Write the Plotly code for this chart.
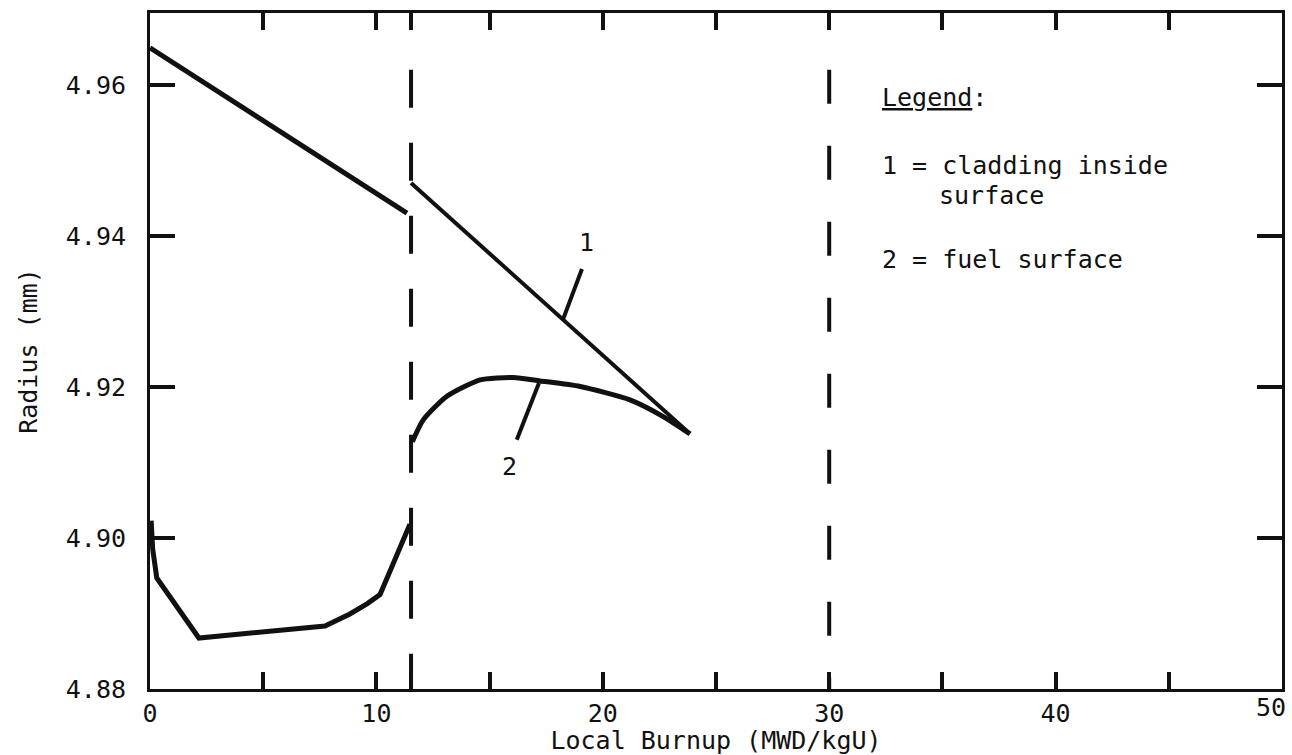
import plotly.graph_objects as go

# Local burnup (MWD/kgU) and radius (mm)
clad_a_x = [0.0, 11.35]
clad_a_y = [4.9649, 4.9430]
clad_b_x = [11.53, 23.85]
clad_b_y = [4.9470, 4.9138]

fuel_a_x = [0.05, 0.12, 0.30, 2.16, 7.73, 8.83, 9.6, 10.16, 10.60, 10.91, 11.48]
fuel_a_y = [4.9023, 4.8985, 4.8947, 4.88675, 4.88834, 4.88993, 4.8913, 4.8925, 4.8956, 4.8978, 4.9018]
fuel_b_x = [11.59, 12.07, 13.10, 14.58, 16.05, 17.23, 19.0, 21.2, 22.67, 23.85]
fuel_b_y = [4.91275, 4.91563, 4.91872, 4.92093, 4.92125, 4.92079, 4.92005, 4.91828, 4.91607, 4.91377]

# burnups marked with vertical dashed lines
marker_burnups = [11.53, 30.0]

x_tickvals = [0, 5, 10, 11.53, 15, 20, 25, 30, 35, 40, 45, 50]
x_ticktext = ["0", "", "10", "", "", "20", "", "30", "", "40", "", ""]
x_end_label = "50"
y_tickvals = [4.88, 4.90, 4.92, 4.94, 4.96]
y_ticktext = ["4.88", "4.90", "4.92", "4.94", "4.96"]

INK = "#111111"
FONT = "DejaVu Sans Mono"

fig = go.Figure()

for xs, ys, w, shape in [
    (clad_a_x, clad_a_y, 5, "linear"),
    (clad_b_x, clad_b_y, 4, "linear"),
    (fuel_a_x, fuel_a_y, 5, "linear"),
    (fuel_b_x, fuel_b_y, 5, "spline"),
]:
    fig.add_trace(go.Scatter(x=xs, y=ys, mode="lines",
                             line=dict(color=INK, width=w, shape=shape, smoothing=0.6),
                             showlegend=False, hoverinfo="skip"))

shapes = []
for bx, dash in zip(marker_burnups, ["38px,35px", "34px,42px"]):
    shapes.append(dict(type="line", xref="x", yref="y", x0=bx, x1=bx,
                       y0=4.9620, y1=4.8800,
                       line=dict(color=INK, width=4, dash=dash)))

# leader lines from the curve numbers to the curves
leaders = [((19.08, 4.9356), (18.24, 4.9289)), ((16.2, 4.9130), (17.18, 4.9205))]
for (x0, y0), (x1, y1) in leaders:
    shapes.append(dict(type="line", xref="x", yref="y", x0=x0, y0=y0, x1=x1, y1=y1,
                       line=dict(color=INK, width=4)))

annotations = [
    dict(x=19.30, y=4.9391, text="1"),
    dict(x=15.90, y=4.9094, text="2"),
    dict(x=32.24, y=4.9583, text="<u>Legend</u>:", xanchor="left"),
    dict(x=32.24, y=4.9493, text="1 = cladding inside", xanchor="left"),
    dict(x=34.76, y=4.9454, text="surface", xanchor="left"),
    dict(x=32.24, y=4.9368, text="2 = fuel surface", xanchor="left"),
]
for a in annotations:
    a.update(xref="x", yref="y", showarrow=False, yanchor="middle",
             font=dict(family=FONT, size=25, color=INK))
    a.setdefault("xanchor", "center")

# last x tick label, kept inside the page at the right edge
annotations.append(dict(x=50, xref="x", y=0, yref="paper", text=x_end_label,
                        xanchor="right", yanchor="top", xshift=6, yshift=-2,
                        showarrow=False, font=dict(family=FONT, size=25, color=INK)))

fig.update_layout(
    width=1292, height=755,
    margin=dict(l=150, r=10, t=13, b=66),
    paper_bgcolor="white", plot_bgcolor="white",
    font=dict(family=FONT, size=25, color=INK),
    shapes=shapes, annotations=annotations,
    xaxis=dict(range=[0, 50], tickvals=x_tickvals, ticktext=x_ticktext,
               ticks="inside", ticklen=17, tickwidth=4, tickcolor=INK,
               showline=True, linewidth=3, linecolor=INK, mirror="ticks",
               showgrid=False, zeroline=False, ticklabelstandoff=0,
               automargin=False,
               title=dict(text="Local Burnup (MWD/kgU)", standoff=0,
                          font=dict(family=FONT, size=25, color=INK))),
    yaxis=dict(range=[4.88, 4.9695], tickvals=y_tickvals, ticktext=y_ticktext,
               ticks="inside", ticklen=25, tickwidth=4, tickcolor=INK,
               showline=True, linewidth=3, linecolor=INK, mirror="ticks",
               showgrid=False, zeroline=False, ticklabelstandoff=16,
               automargin=False,
               title=dict(text="Radius (mm)", standoff=22,
                          font=dict(family=FONT, size=25, color=INK))),
)

fig.write_html("out.html")
